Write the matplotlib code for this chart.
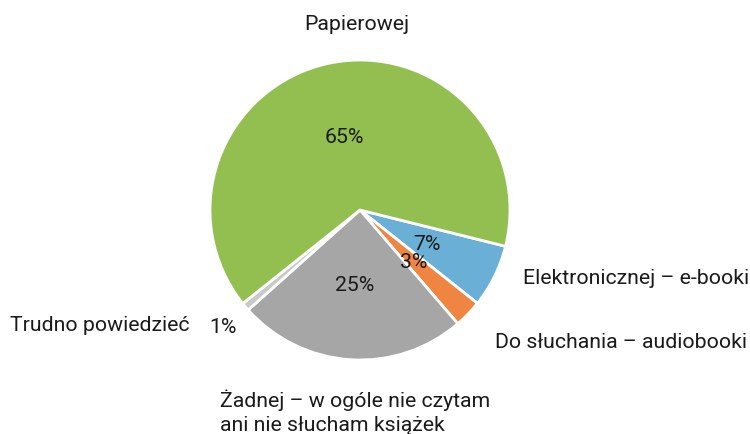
import numpy as np
import matplotlib.pyplot as plt

plt.rcParams['font.family'] = ['Roboto', 'DejaVu Sans']

# dane
labels = ['Elektronicznej – e-booki', 'Do słuchania – audiobooki',
          'Żadnej – w ogóle nie czytam\nani nie słucham książek',
          'Trudno powiedzieć', 'Papierowej']
values = [6.8, 3.0, 24.7, 0.9, 64.6]
pct_labels = ['7%', '3%', '25%', '1%', '65%']
colors = ['#6aafd5', '#f08542', '#a6a6a6', '#c9c9c9', '#93bf50']

W, H = 750, 435
cx, cy, r = 360, H - 211, 150
fs = 15.3

fig = plt.figure(figsize=(7.5, 4.35), dpi=100)
ax = fig.add_axes([0, 0, 1, 1])

wedges, _ = ax.pie(values, colors=colors, startangle=-14, counterclock=False,
                   center=(cx, cy), radius=r, frame=True,
                   wedgeprops=dict(edgecolor='white', linewidth=2))
ax.set_xlim(0, W)
ax.set_ylim(0, H)
ax.set_aspect('equal')
ax.axis('off')

pct_dist = [0.5, 0.5, 0.5, 1.2, 0.5]
for w, t, d in zip(wedges, pct_labels, pct_dist):
    a = np.deg2rad((w.theta1 + w.theta2) / 2)
    ax.text(cx + d * r * np.cos(a), cy + d * r * np.sin(a), t,
            ha='center', va='center', fontsize=fs, color='#1a1a1a')

# etykiety kategorii
lab_pos = [(523, 278, 'left'), (495, 343, 'left'), (220, 412, 'left'),
           (190, 326, 'right'), (357, 25, 'center')]
for t, (x, y, ha) in zip(labels, lab_pos):
    ax.text(x, H - y, t, ha=ha, va='center', fontsize=fs,
            color='#1a1a1a', linespacing=1.32)

fig.savefig('out.png', dpi=100)
